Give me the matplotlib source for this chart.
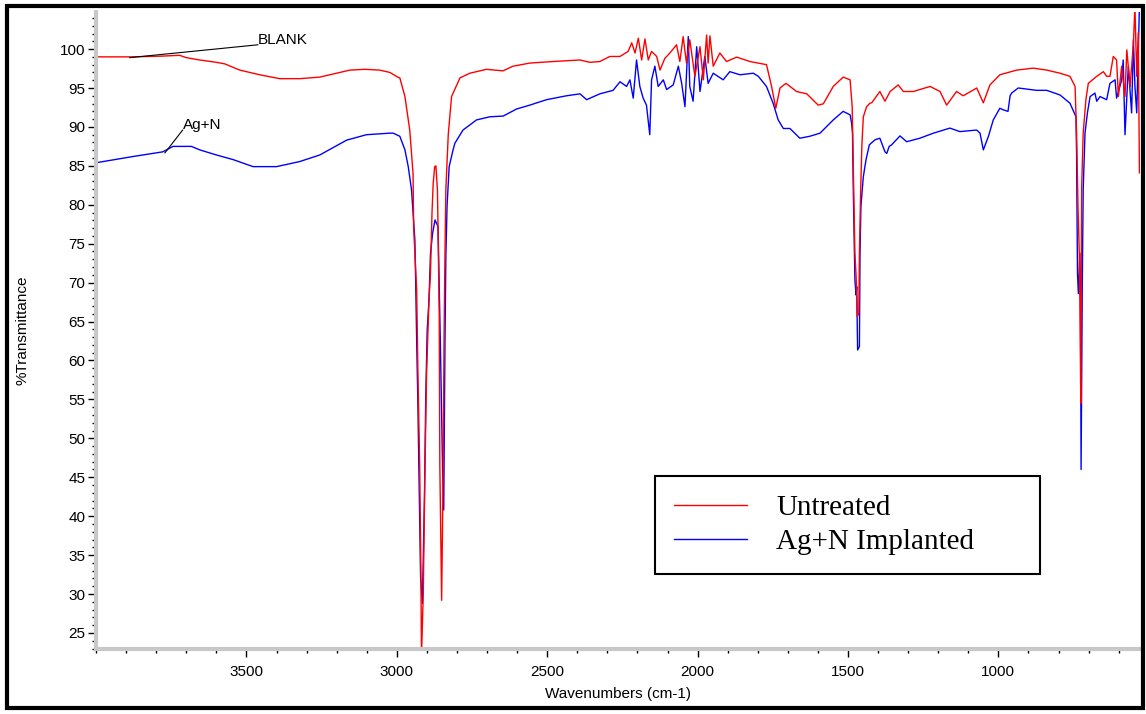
import matplotlib.pyplot as plt
import matplotlib.patches as patches
from matplotlib.ticker import MultipleLocator

# Untreated (BLANK) spectrum
red_wn = [4000, 3877, 3778, 3722, 3700, 3655, 3600, 3572, 3522, 3456, 3389, 3323, 3256, 3156, 3106,
          3057, 3023, 2997, 2990, 2973, 2957, 2946, 2944, 2934, 2930, 2924, 2920, 2918, 2912, 2907,
          2901, 2893, 2888, 2883, 2879, 2874, 2870, 2865, 2863, 2859, 2857, 2851, 2846, 2843, 2840,
          2837, 2829, 2818, 2790, 2757, 2702, 2647, 2614, 2558, 2481, 2391, 2358, 2325, 2292, 2258,
          2231, 2219, 2208, 2197, 2186, 2175, 2164, 2153, 2136, 2125, 2109, 2092, 2070, 2059, 2048,
          2037, 2026, 2009, 1992, 1981, 1970, 1965, 1959, 1948, 1926, 1904, 1870, 1826, 1771, 1754,
          1740, 1726, 1706, 1671, 1637, 1599, 1582, 1549, 1516, 1493, 1486, 1482, 1477, 1473, 1469,
          1464, 1462, 1458, 1454, 1449, 1438, 1427, 1421, 1394, 1377, 1360, 1333, 1316, 1283, 1227,
          1194, 1172, 1139, 1117, 1072, 1050, 1028, 995, 939, 884, 839, 795, 762, 745, 740,
          735, 731, 729, 726, 723, 718, 709, 701, 673, 651, 640, 629, 618, 607, 601,
          590, 579, 573, 562, 551, 546, 540, 535, 531]
red_T = [99.0, 99.0, 99.1, 99.2, 98.9, 98.6, 98.3, 98.1, 97.3, 96.7, 96.2, 96.2, 96.4, 97.3, 97.4,
         97.3, 97.0, 96.4, 96.3, 93.9, 89.6, 84.0, 77.0, 69.1, 58.8, 46.6, 33.1, 22.0, 30.1, 44.6,
         58.4, 67.8, 71.3, 79.0, 82.8, 84.9, 85.0, 81.9, 77.2, 65.6, 46.6, 29.2, 45.5, 62.7, 73.3,
         81.9, 89.0, 93.9, 96.3, 96.9, 97.4, 97.2, 97.8, 98.2, 98.4, 98.6, 98.3, 98.4, 99.05, 99.05,
         99.7, 100.8, 99.5, 101.4, 98.6, 101.3, 98.6, 99.7, 99.05, 97.3, 98.8, 99.5, 100.55, 98.4, 101.6,
         98.2, 101.2, 96.5, 100.3, 96.05, 101.8, 98.2, 101.7, 97.8, 99.5, 98.4, 98.97, 98.4, 98.0, 95.2,
         92.4, 95.0, 95.6, 94.55, 94.25, 92.8, 92.97, 95.2, 96.4, 96.05, 92.6, 84.5, 73.8, 70.8, 65.6,
         66.1, 73.8, 81.5, 87.5, 91.3, 92.6, 93.05, 93.1, 94.55, 93.3, 94.55, 95.4, 94.55, 94.55, 95.2,
         94.55, 92.8, 94.55, 94.0, 95.0, 93.1, 95.4, 96.7, 97.3, 97.55, 97.3, 96.9, 96.5, 95.2, 89.2,
         79.3, 73.8, 67.8, 54.5, 82.3, 89.2, 93.5, 95.6, 96.5, 97.1, 96.5, 96.5, 99.05, 98.6, 93.9,
         97.8, 93.9, 99.9, 95.2, 100.8, 105.5, 96.5, 102.1, 84.1]

# Ag+N implanted spectrum
blue_wn = [4000, 3877, 3778, 3744, 3683, 3655, 3600, 3544, 3478, 3400, 3323, 3256, 3167, 3101, 3023,
           3012, 2990, 2973, 2962, 2951, 2940, 2937, 2934, 2930, 2926, 2921, 2915, 2908, 2904, 2899,
           2893, 2888, 2881, 2873, 2863, 2860, 2855, 2848, 2844, 2840, 2837, 2833, 2826, 2813, 2807,
           2780, 2735, 2691, 2646, 2602, 2558, 2502, 2436, 2391, 2369, 2325, 2281, 2258, 2236, 2225,
           2214, 2203, 2192, 2181, 2170, 2159, 2153, 2142, 2131, 2114, 2103, 2081, 2064, 2053, 2042,
           2031, 2026, 2015, 2003, 1992, 1976, 1965, 1948, 1915, 1893, 1859, 1815, 1798, 1771, 1749,
           1732, 1715, 1693, 1660, 1627, 1593, 1549, 1516, 1493, 1488, 1485, 1482, 1477, 1473, 1471,
           1468, 1462, 1460, 1457, 1449, 1440, 1429, 1410, 1394, 1377, 1371, 1363, 1355, 1327, 1305,
           1261, 1216, 1161, 1128, 1072, 1061, 1050, 1033, 1017, 995, 984, 968, 961, 956, 934,
           873, 839, 795, 762, 742, 740, 737, 734, 729, 727, 725, 721, 718, 712, 704,
           695, 679, 673, 662, 640, 629, 612, 607, 590, 585, 579, 568, 557, 551, 546,
           540, 531]
blue_T = [85.4, 86.2, 86.8, 87.5, 87.5, 87.05, 86.4, 85.8, 84.9, 84.9, 85.55, 86.4, 88.3, 89.0, 89.2,
          89.2, 88.8, 87.05, 84.9, 81.9, 75.5, 69.5, 62.6, 54.5, 44.2, 32.2, 28.8, 42.5, 54.9, 63.9,
          67.8, 73.8, 76.35, 78.05, 77.2, 71.2, 61.8, 46.35, 40.8, 61.8, 73.3, 79.8, 84.9, 87.05, 87.9,
          89.6, 90.9, 91.3, 91.4, 92.3, 92.8, 93.5, 94.0, 94.25, 93.5, 94.25, 94.7, 95.8, 95.2, 96.05,
          93.7, 98.6, 95.2, 93.7, 92.8, 89.0, 96.05, 97.8, 95.2, 96.05, 94.8, 95.4, 97.8, 95.6, 92.6,
          101.6, 95.2, 93.3, 100.3, 94.55, 99.05, 95.6, 96.9, 96.05, 97.1, 96.7, 96.9, 96.5, 95.2, 93.05,
          90.9, 89.8, 89.8, 88.55, 88.8, 89.2, 90.9, 92.0, 91.55, 90.5, 89.2, 81.05, 70.35, 68.4, 69.5,
          61.35, 61.8, 73.8, 79.8, 83.6, 85.8, 87.7, 88.35, 88.55, 86.8, 86.6, 87.5, 87.7, 88.85, 88.1,
          88.55, 89.2, 89.85, 89.4, 89.6, 89.2, 87.05, 88.8, 90.9, 92.4, 92.2, 92.0, 94.0, 94.35, 95.0,
          94.7, 94.7, 94.1, 93.05, 91.3, 86.6, 71.2, 68.6, 73.8, 67.4, 46.0, 70.0, 81.9, 89.2, 91.8,
          93.9, 94.35, 93.3, 93.9, 93.5, 95.6, 96.05, 93.7, 96.05, 98.6, 89.0, 97.8, 91.8, 101.2, 95.2,
          91.8, 105.5]

y_ticks = [25, 30, 35, 40, 45, 50, 55, 60, 65, 70, 75, 80, 85, 90, 95, 100]
x_ticks = [3500, 3000, 2500, 2000, 1500, 1000]

sans = ['Liberation Sans Narrow', 'Liberation Sans', 'DejaVu Sans']

fig = plt.figure(figsize=(11.46, 7.14), dpi=100)
ax = fig.add_axes([0.0838, 0.0906, 0.911, 0.893])

line_b, = ax.plot(blue_wn, blue_T, color='#0000ff', lw=1.0, label='Ag+N Implanted')
line_r, = ax.plot(red_wn, red_T, color='#ff0000', lw=1.0, label='Untreated')

ax.set_xlim(4000, 529)
ax.set_ylim(22.9, 104.8)
ax.set_xticks(x_ticks)
ax.set_yticks(y_ticks)
ax.xaxis.set_minor_locator(MultipleLocator(100))
ax.yaxis.set_minor_locator(MultipleLocator(1))

for s in ['top', 'right']:
    ax.spines[s].set_visible(False)
for s in ['left', 'bottom']:
    ax.spines[s].set_color('#c8c8c8')
    ax.spines[s].set_linewidth(3)

ax.tick_params(axis='both', which='major', length=6, width=1, color='black')
ax.tick_params(axis='both', which='minor', length=3, width=1, color='black')
ax.tick_params(axis='y', which='major', pad=1.5)
ax.tick_params(axis='x', which='major', pad=5)
for lab in ax.get_xticklabels() + ax.get_yticklabels():
    lab.set_family(sans)
    lab.set_fontsize(11)

ax.set_xlabel('Wavenumbers (cm-1)', family=sans, fontsize=11, labelpad=6)
ax.set_ylabel('%Transmittance', family=sans, fontsize=11, labelpad=22)

# curve labels
ax.plot([3888, 3462], [98.9, 100.55], color='black', lw=0.8)
ax.text(3462, 100.3, 'BLANK', family=sans, fontsize=11, ha='left', va='bottom')
ax.plot([3771, 3712], [86.67, 89.6], color='black', lw=0.8)
ax.text(3712, 89.4, 'Ag+N', family=sans, fontsize=11, ha='left', va='bottom')

leg = ax.legend(handles=[line_r, line_b], loc='upper left',
                bbox_to_anchor=(0.5354, 0.0, 0.3688, 0.2718), mode='expand', borderaxespad=0,
                prop={'family': 'Liberation Serif', 'size': 21}, fancybox=False,
                handlelength=2.5, handletextpad=1.0, borderpad=0.65, labelspacing=0.25)
leg.get_frame().set_edgecolor('black')
leg.get_frame().set_linewidth(1.5)
leg.get_frame().set_alpha(1)

# border around the whole picture
fig.patches.append(patches.Rectangle((7 / 1146, 6 / 714), 1136 / 1146, 702 / 714,
                                     transform=fig.transFigure, fill=False,
                                     edgecolor='black', linewidth=3))

plt.savefig('out.png', dpi=100)
